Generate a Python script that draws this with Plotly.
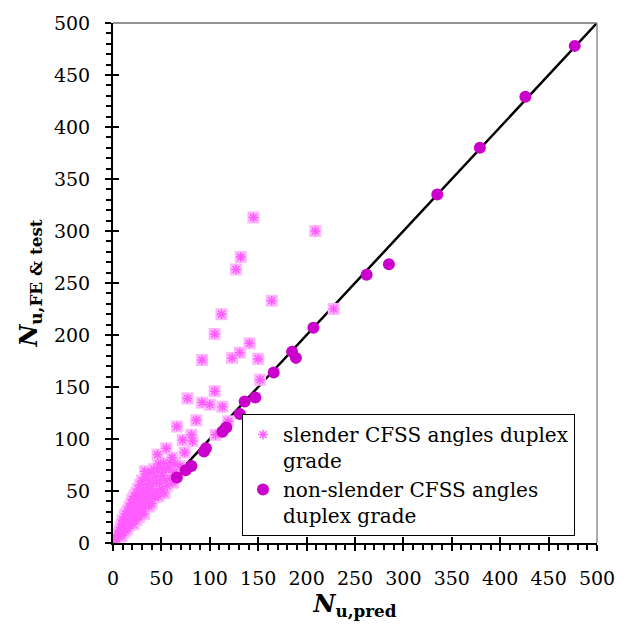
import plotly.graph_objects as go

# Non-slender CFSS angles (duplex grade)
ns_pred = [66, 75, 81, 94, 96, 113, 117, 131, 136, 147, 166, 185, 189, 207, 262, 285, 335, 379, 426, 477]
ns_fe = [63, 70, 74, 88, 91, 107, 111, 124, 136, 140, 164, 184, 178, 207, 258, 268, 335, 380, 429, 478]

# Slender CFSS angles (duplex grade)
sl_pred = [145, 209, 132, 127, 164, 112, 105, 141, 228, 131, 123, 150, 92, 152, 105, 77, 92, 100, 113,
           86, 119, 66, 81, 106, 72, 82, 46, 55, 61, 74, 47, 59, 69, 33, 42, 50, 52, 64, 55, 48,
           1, 2, 3, 4, 5, 6, 6, 7, 8, 8, 9, 9, 10, 10, 11, 11, 12, 12, 13, 13, 14, 14, 15, 15,
           16, 16, 17, 17, 18, 18, 19, 19, 20, 20, 21, 21, 22, 22, 23, 23, 24, 24, 25, 25, 26, 26,
           27, 27, 28, 28, 29, 30, 30, 31, 31, 32, 33, 33, 34, 35, 36, 36, 37, 38, 38, 39, 40, 40,
           41, 42, 43, 44, 45, 46, 47, 48, 50, 51, 53, 54, 56, 57, 59, 62, 63]
sl_fe = [313, 300, 275, 263, 233, 220, 201, 192, 225, 183, 178, 177, 176, 157, 146, 139, 135, 133, 131,
         118, 117, 112, 104, 104, 99, 98, 85, 91, 82, 87, 76, 77, 74, 69, 71, 71, 77, 76, 71, 60,
         2, 3, 5, 4, 8, 6, 10, 12, 9, 15, 7, 18, 13, 22, 10, 16, 25, 19, 12, 28, 17, 22, 14, 31,
         20, 26, 35, 17, 23, 30, 38, 20, 27, 42, 18, 33, 24, 45, 30, 38, 22, 48, 34, 28, 52, 42,
         25, 36, 56, 46, 30, 40, 60, 35, 50, 28, 63, 44, 38, 55, 48, 66, 35, 42, 60, 52, 68, 38,
         46, 57, 44, 64, 50, 70, 45, 58, 52, 65, 48, 60, 55, 72, 62, 58, 68]

line_x = [0, 500]
line_y = [0, 500]

x_ticks = [0, 50, 100, 150, 200, 250, 300, 350, 400, 450, 500]
y_ticks = [0, 50, 100, 150, 200, 250, 300, 350, 400, 450, 500]

FONT = "DejaVu Serif"

fig = go.Figure()

fig.add_trace(go.Scatter(x=line_x, y=line_y, mode="lines",
                         line=dict(color="black", width=2.5),
                         showlegend=False, hoverinfo="skip"))

fig.add_trace(go.Scatter(x=sl_pred, y=sl_fe, mode="markers",
                         marker=dict(symbol="square", size=12, color="#FFB8FF", opacity=1,
                                     line=dict(width=0)),
                         showlegend=False, hoverinfo="skip"))

fig.add_trace(go.Scatter(x=sl_pred, y=sl_fe, mode="markers",
                         name="slender CFSS angles duplex<br>grade",
                         marker=dict(symbol="asterisk-open", size=8, color="#FF5CFF",
                                     line=dict(color="#FF5CFF", width=1.5))))

fig.add_trace(go.Scatter(x=ns_pred, y=ns_fe, mode="markers",
                         name="non-slender CFSS angles<br>duplex grade",
                         marker=dict(symbol="circle", size=12, color="#CC00CC",
                                     line=dict(width=0))))

# dummy trace so the overlay axes (inner half of crossing ticks) are drawn
fig.add_trace(go.Scatter(x=[None], y=[None], xaxis="x2", yaxis="y2",
                         showlegend=False, hoverinfo="skip"))

axis_common = dict(range=[0, 500], tickmode="array", showgrid=False, zeroline=False,
                   showline=True, linecolor="black", linewidth=2,
                   ticks="outside", ticklen=6, tickwidth=2, tickcolor="black",
                   minor=dict(dtick=10, tick0=0, ticks="outside", ticklen=5, tickwidth=1.5,
                              tickcolor="black", showgrid=False),
                   tickfont=dict(family=FONT, size=19, color="black"),
                   ticklabelstandoff=11)

fig.update_layout(
    width=633, height=633,
    margin=dict(l=113, r=36, t=17, b=90),
    plot_bgcolor="white", paper_bgcolor="white",
    xaxis=dict(**axis_common, tickvals=x_ticks, ticktext=[str(v) for v in x_ticks],
               title=dict(text="<b><i>N</i><sub>u,pred</sub></b>",
                          font=dict(family=FONT, size=24, color="black"), standoff=4)),
    yaxis=dict(**axis_common, tickvals=y_ticks, ticktext=[str(v) for v in y_ticks],
               title=dict(text="<b><i>N</i><sub>u,FE &amp; test</sub></b>",
                          font=dict(family=FONT, size=24, color="black"), standoff=10)),
    xaxis2=dict(overlaying="x", anchor="y", side="bottom", range=[0, 500],
                tickmode="array", tickvals=x_ticks, ticks="inside", ticklen=6, tickwidth=2,
                tickcolor="black", showticklabels=False, showline=False, showgrid=False,
                zeroline=False),
    yaxis2=dict(overlaying="y", anchor="x", side="left", range=[0, 500],
                tickmode="array", tickvals=y_ticks, ticks="inside", ticklen=6, tickwidth=2,
                tickcolor="black", showticklabels=False, showline=False, showgrid=False,
                zeroline=False),
    legend=dict(x=0.2665, y=0.0133, xanchor="left", yanchor="bottom",
                bordercolor="black", borderwidth=1, bgcolor="white",
                font=dict(family=FONT, size=20, color="black"),
                valign="top", tracegroupgap=0),
    shapes=[
        dict(type="line", xref="paper", yref="paper", x0=0, y0=1, x1=1, y1=1,
             line=dict(color="#6f6f6f", width=1.5)),
        dict(type="line", xref="paper", yref="paper", x0=1, y0=0, x1=1, y1=1,
             line=dict(color="#8f8f8f", width=1.5)),
    ],
)

fig.write_html("out.html")
